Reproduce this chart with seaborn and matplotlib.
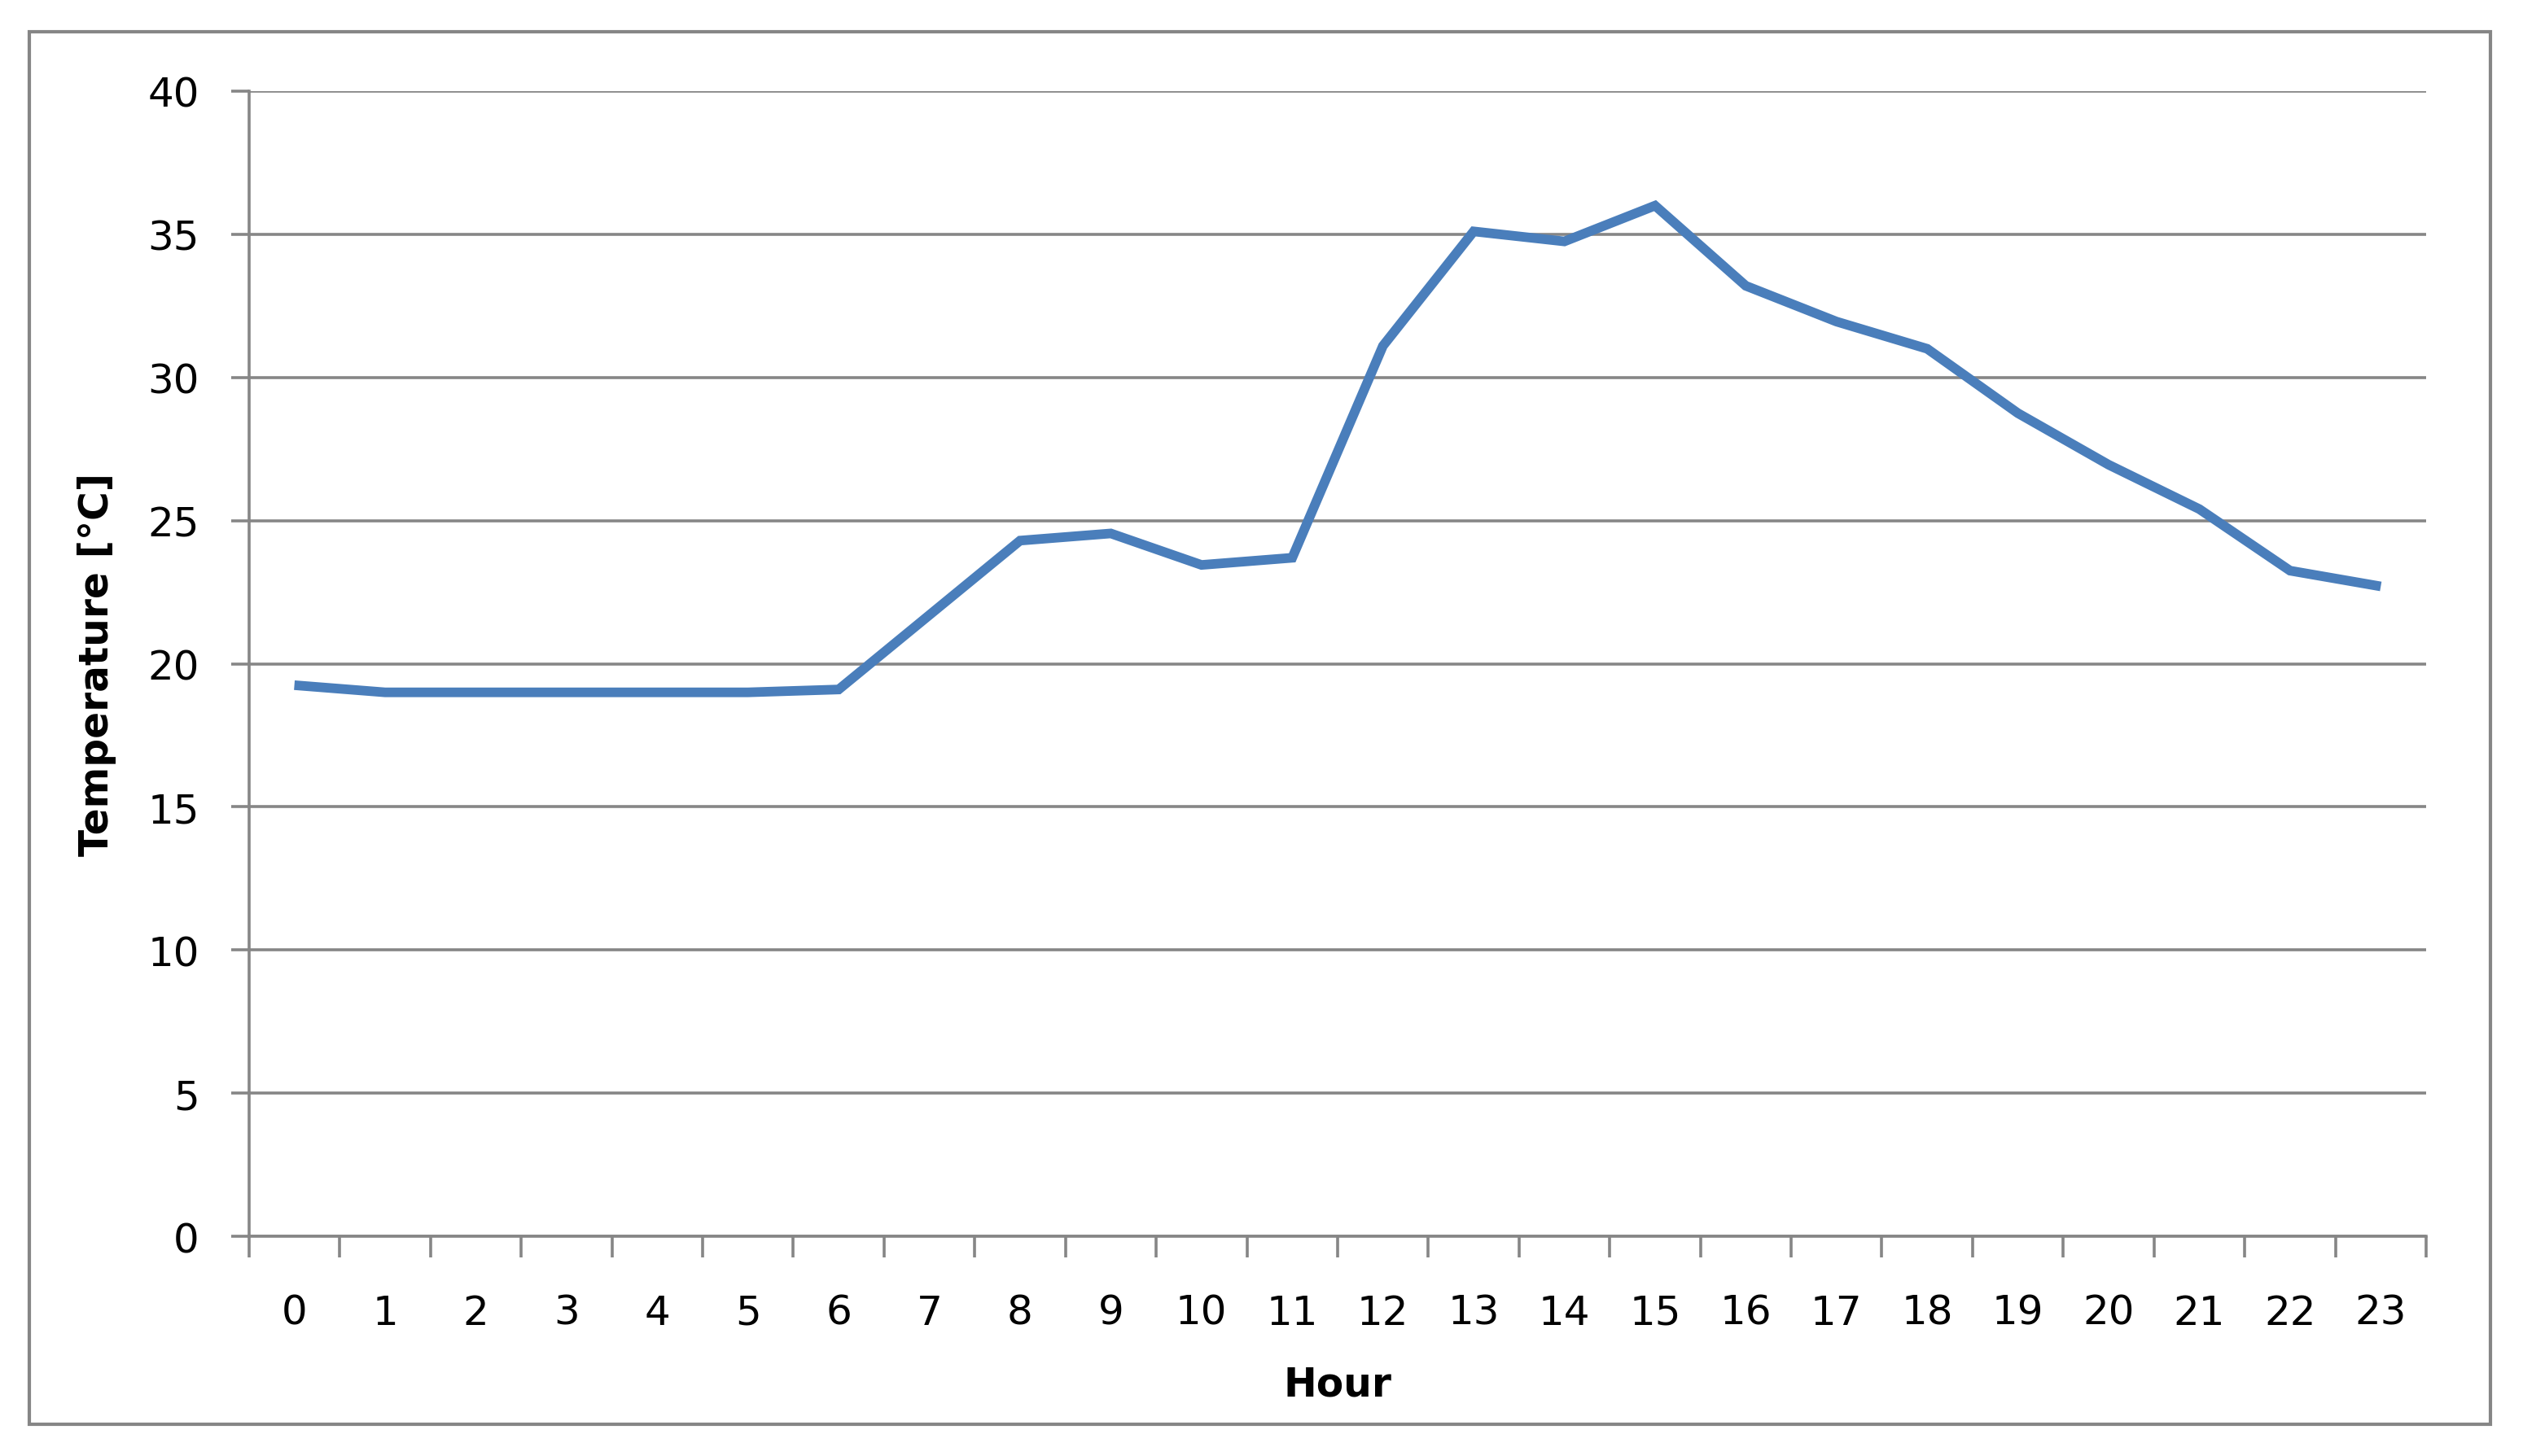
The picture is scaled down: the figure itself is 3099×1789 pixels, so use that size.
import numpy as np
import pandas as pd
import seaborn as sns
import matplotlib.pyplot as plt
from matplotlib.patches import Rectangle
from matplotlib.ticker import FixedLocator, NullFormatter

hours = list(range(24))
temps = [19.25, 19.0, 19.0, 19.0, 19.0, 19.0, 19.1, 21.7, 24.3, 24.55, 23.45, 23.7,
         31.1, 35.1, 34.75, 36.0, 33.2, 31.95, 31.0, 28.75, 26.95, 25.4, 23.25, 22.7]
y_ticks = [0, 5, 10, 15, 20, 25, 30, 35, 40]
x_label = "Hour"
y_label = "Temperature [°C]"

grey = "#868686"
blue = "#4A7EBB"

sns.set_style("white")
plt.rcParams['font.family'] = ['DejaVu Sans']

df = pd.DataFrame({"hour": hours, "temp": temps})

fig = plt.figure(figsize=(30.99, 17.90), dpi=100)
ax = fig.add_axes([0.0987, 0.1508, 0.8629, 0.7861])

sns.lineplot(data=df, x="hour", y="temp", ax=ax, color=blue, linewidth=8.5,
             solid_joinstyle="miter", solid_capstyle="butt")

ax.set_xlim(-0.5, 23.5)
ax.set_ylim(0, 40)

# horizontal gridlines
ax.set_yticks(y_ticks)
ax.yaxis.grid(True, color=grey, linewidth=2.6)
ax.xaxis.grid(False)
ax.set_axisbelow(True)

# x: tick marks on category boundaries, labels at category centres
ax.xaxis.set_major_locator(FixedLocator(np.arange(-0.5, 24, 1)))
ax.xaxis.set_major_formatter(NullFormatter())
ax.xaxis.set_minor_locator(FixedLocator(hours))
ax.set_xticklabels([str(h) for h in hours], minor=True)
ax.tick_params(axis="x", which="major", direction="out", length=19, width=2.6,
               color=grey, bottom=True)
ax.tick_params(axis="x", which="minor", length=0, pad=50, labelsize=36,
               labelcolor="black", bottom=True)
ax.tick_params(axis="y", direction="out", length=16, width=2.6, color=grey,
               pad=28, labelsize=36, labelcolor="black", left=True)

for side in ["top", "right"]:
    ax.spines[side].set_visible(False)
for side in ["left", "bottom"]:
    ax.spines[side].set_color(grey)
    ax.spines[side].set_linewidth(2.6)

ax.set_xlabel(x_label, fontsize=35, fontweight="bold", color="black")
ax.set_ylabel(y_label, fontsize=35, fontweight="bold", color="black")
ax.xaxis.set_label_coords(0.5, -0.112)
ax.yaxis.set_label_coords(-0.061, 0.5)

# outer chart border
fig.patches.append(Rectangle((0.0116, 0.0218), 0.9755, 0.956, transform=fig.transFigure,
                             fill=False, edgecolor=grey, linewidth=3))

fig.savefig("out.png", dpi=100, facecolor="white")
plt.close(fig)
